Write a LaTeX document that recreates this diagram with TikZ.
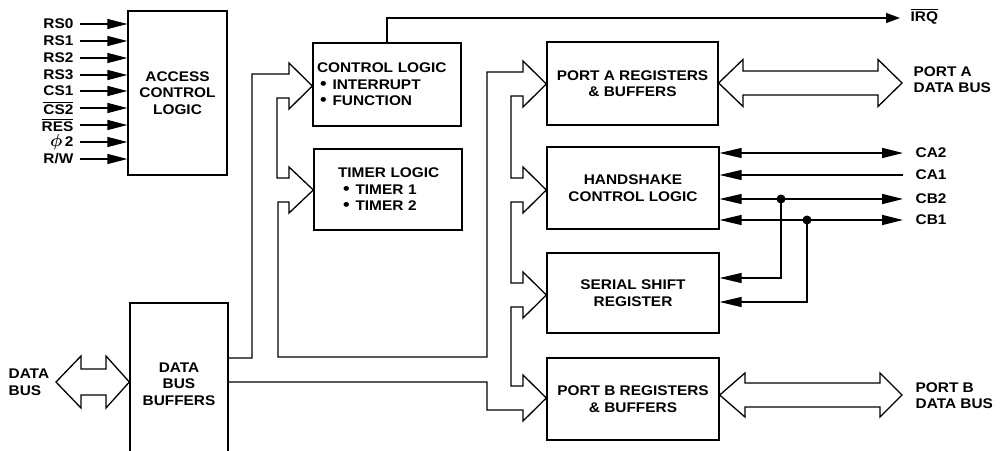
\documentclass[tikz,border=0pt]{standalone}
\usepackage{fontspec}
\usepackage{amsmath}
\setmainfont{Liberation Sans}[FakeStretch=1.1]
\usetikzlibrary{arrows.meta}
\newcommand{\ovl}[1]{$\overline{\mbox{#1}}$}
\newcommand{\lblfont}{\bfseries\fontsize{14}{16.5}\selectfont}
\newcommand{\bigbul}{{\fontsize{17}{16.5}\selectfont\textbullet}}
\begin{document}
\begin{tikzpicture}[x=1pt,y=-1pt,line width=1.3pt,
  box/.style={draw,inner sep=0pt,font=\lblfont,align=center},
  lbl/.style={inner sep=0pt,font=\lblfont},
  sig/.style={-{Triangle[length=20pt,width=10pt]}},
  hsig/.style={{Triangle[length=22pt,width=10pt]}-{Triangle[length=21pt,width=10pt]}},
  hin/.style={{Triangle[length=22pt,width=10pt]}-},
  bus/.style={line join=miter},
  dot/.style={circle,fill,inner sep=0pt,minimum size=9pt}]
\useasboundingbox (0,0) rectangle (1006,450);
\clip (0,0) rectangle (1006,450);

% boxes
\node[box,minimum width=99pt,minimum height=164pt] (acl) at (177.5,93) {ACCESS\\CONTROL\\LOGIC};
\node[box,minimum width=98pt,minimum height=162pt] (dbb) at (179,384) {DATA\\BUS\\BUFFERS};
\node[box,minimum width=148pt,minimum height=83pt,align=left,text width=140pt,inner xsep=4pt] (cl) at (387,84.5)
  {CONTROL LOGIC\\\hspace*{3pt}\bigbul\hspace{6pt}INTERRUPT\\\hspace*{3pt}\bigbul\hspace{6pt}FUNCTION};
\node[box,minimum width=148pt,minimum height=81pt,align=left,text width=140pt,inner xsep=4pt] (tl) at (388,189.5)
  {\hspace*{20pt}TIMER LOGIC\\\hspace*{25pt}\bigbul\hspace{6pt}TIMER 1\\\hspace*{25pt}\bigbul\hspace{6pt}TIMER 2};
\node[box,minimum width=171pt,minimum height=83pt] (pa) at (632.5,83.5) {PORT A REGISTERS\\\& BUFFERS};
\node[box,minimum width=172pt,minimum height=82pt] (hs) at (633,188) {HANDSHAKE\\CONTROL LOGIC};
\node[box,minimum width=172pt,minimum height=80pt] (ss) at (633,293) {SERIAL SHIFT\\REGISTER};
\node[box,minimum width=172pt,minimum height=82pt] (pb) at (633,399) {PORT B REGISTERS\\\& BUFFERS};

% input signals
\node[lbl,anchor=east] (rs0) at (74,24) {RS0};
\node[lbl,anchor=east] (rs1) at (74,41) {RS1};
\node[lbl,anchor=east] (rs2) at (74,58) {RS2};
\node[lbl,anchor=east] (rs3) at (74,75) {RS3};
\node[lbl,anchor=east] (cs1) at (74,91) {CS1};
\node[lbl,anchor=east] (cs2) at (74,108) {\ovl{CS2}};
\node[lbl,anchor=east] (res) at (74,125) {\ovl{RES}};
\node[lbl,anchor=east] (phi) at (74,142) {{\fontsize{17}{17}\selectfont$\boldsymbol{\phi}$}\,2};
\node[lbl,anchor=east] (rw) at (74,159) {R/W};
\foreach \n in {rs0,rs1,rs2,rs3,cs1,cs2,res,phi,rw}
  \draw[sig] ([xshift=6pt]\n.east) -- (acl.west |- \n.east);

% IRQ
\node[lbl,anchor=base west] (irq) at (910,21) {\ovl{IRQ}};
\coordinate (irqend) at (900,18);
\draw[-{Triangle[length=14pt,width=10pt]}] (cl.north) |- (irqend);

% data bus (wide) from buffers to all blocks
\draw[bus] (228,382) -- (487,382) -- (487,410) -- (523,410) -- (523,421) -- (pb.west |- 0,398) -- (523,375) -- (523,386)
  -- (511,386) -- (511,307) -- (523,307) -- (523,318) -- (ss.west |- 0,295) -- (523,272) -- (523,283)
  -- (511,283) -- (511,202) -- (523,202) -- (523,213) -- (hs.west |- 0,190) -- (523,167) -- (523,178)
  -- (511,178) -- (511,96) -- (523,96) -- (523,107) -- (pa.west |- 0,84) -- (523,61) -- (523,72)
  -- (487,72) -- (487,357) -- (278,357) -- (278,202) -- (289,202) -- (289,213) -- (tl.west |- 0,190)
  -- (289,167) -- (289,178) -- (277,178) -- (277,98) -- (289,98) -- (289,109) -- (cl.west |- 0,86)
  -- (289,63) -- (289,74) -- (252,74) -- (252,358) -- (228,358);

% external data bus
\node[lbl,anchor=west,align=left] (db) at (8,382) {DATA\\BUS};
\draw[bus] (56,382) -- (81,356) -- (81,369) -- (106,369) -- (106,356) -- (dbb.west |- 0,382)
  -- (106,408) -- (106,395) -- (81,395) -- (81,408) -- cycle;

% port A data bus
\node[lbl,anchor=west,align=left] (pad) at (913,79.5) {PORT A\\DATA BUS};
\draw[bus] (pa.east |- 0,83) -- (743,59.5) -- (743,71) -- (878,71) -- (878,59.5) -- (902,83)
  -- (878,106.5) -- (878,95) -- (743,95) -- (743,106.5) -- cycle;

% port B data bus
\node[lbl,anchor=west,align=left] (pbd) at (915,395.5) {PORT B\\DATA BUS};
\draw[bus] (pb.east |- 0,395) -- (745,373) -- (745,383) -- (880,383) -- (880,373) -- (902,395)
  -- (880,417) -- (880,407) -- (745,407) -- (745,417) -- cycle;

% handshake lines
\node[lbl,anchor=west] (ca2) at (915,153) {CA2};
\node[lbl,anchor=west] (ca1) at (915,175) {CA1};
\node[lbl,anchor=west] (cb2) at (915,199) {CB2};
\node[lbl,anchor=west] (cb1) at (915,220) {CB1};
\draw[hsig] (hs.east |- ca2.west) -- ([xshift=-12pt]ca2.west);
\draw[hin] (hs.east |- ca1.west) -- ([xshift=-12pt]ca1.west);
\draw[hsig] (hs.east |- cb2.west) -- ([xshift=-12pt]cb2.west);
\draw[hsig] (hs.east |- cb1.west) -- ([xshift=-12pt]cb1.west);
\node[dot] (d2) at (781,199) {};
\node[dot] (d1) at (807,220) {};
\coordinate (s2) at (ss.east |- 0,278);
\coordinate (s1) at (ss.east |- 0,302);
\draw[hin] (s2) -| (d2.center);
\draw[hin] (s1) -| (d1.center);
\end{tikzpicture}
\end{document}
